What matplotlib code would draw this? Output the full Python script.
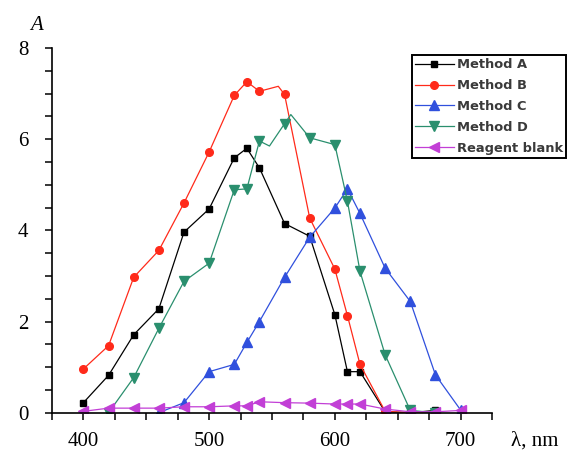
import matplotlib
matplotlib.use("Agg")
import matplotlib.pyplot as plt
from matplotlib.ticker import MultipleLocator

# ---- data ----
wl_a = [400, 420, 440, 460, 480, 500, 520, 530, 540, 560, 580, 600, 610, 620, 640, 660, 680]
abs_a = [0.22, 0.82, 1.71, 2.28, 3.96, 4.47, 5.59, 5.80, 5.37, 4.15, 3.87, 2.15, 0.90, 0.90, 0.02, 0.0, 0.05]

wl_b = [400, 420, 440, 460, 480, 500, 520, 530, 540, 555, 560, 580, 600, 610, 620, 640, 660, 680]
abs_b = [0.96, 1.47, 2.97, 3.56, 4.60, 5.72, 6.96, 7.26, 7.05, 7.16, 6.98, 4.27, 3.15, 2.13, 1.06, 0.03, 0.0, 0.0]
mark_b = [0, 1, 2, 3, 4, 5, 6, 7, 8, 10, 11, 12, 13, 14, 15, 16, 17]

wl_c = [460, 480, 500, 520, 530, 540, 560, 580, 600, 610, 620, 640, 660, 680, 700]
abs_c = [0.0, 0.22, 0.90, 1.06, 1.54, 2.00, 2.97, 3.85, 4.49, 4.91, 4.37, 3.17, 2.44, 0.83, 0.06]

wl_d = [420, 440, 460, 480, 500, 520, 530, 540, 548, 560, 565, 580, 600, 610, 620, 640, 660, 680]
abs_d = [0.0, 0.77, 1.85, 2.88, 3.28, 4.89, 4.91, 5.96, 5.85, 6.34, 6.54, 6.03, 5.88, 4.64, 3.10, 1.27, 0.05, 0.0]
mark_d = [0, 1, 2, 3, 4, 5, 6, 7, 9, 11, 12, 13, 14, 15, 16, 17]

wl_e = [400, 420, 440, 460, 480, 500, 520, 530, 540, 560, 580, 600, 610, 620, 640, 660, 680, 700]
abs_e = [0.03, 0.10, 0.10, 0.10, 0.13, 0.13, 0.15, 0.15, 0.24, 0.22, 0.21, 0.19, 0.19, 0.19, 0.08, 0.02, 0.02, 0.05]

labels = ["Method A", "Method B", "Method C", "Method D", "Reagent blank"]
colors = ["#000000", "#ff2a1a", "#3050dd", "#2a8f6e", "#c23fd6"]

# ---- figure ----
fig = plt.figure(figsize=(5.71, 4.55), dpi=100)
ax = fig.add_axes([52 / 571, 1 - 412.7 / 455, 440 / 571, (412.7 - 48) / 455])

lw = 0.9
ax.plot(wl_a, abs_a, color=colors[0], lw=lw, marker="s", ms=4.5, label=labels[0])
ax.plot(wl_b, abs_b, color=colors[1], lw=lw, marker="o", ms=5.5, markevery=mark_b, label=labels[1])
ax.plot(wl_c, abs_c, color=colors[2], lw=lw, marker="^", ms=6.5, label=labels[2])
ax.plot(wl_d, abs_d, color=colors[3], lw=lw, marker="v", ms=6.5, markevery=mark_d, label=labels[3])
ax.plot(wl_e, abs_e, color=colors[4], lw=lw, marker="<", ms=6.5, label=labels[4])

ax.set_xlim(375, 725)
ax.set_ylim(0, 8)
ax.spines["top"].set_visible(False)
ax.spines["right"].set_visible(False)
for s in ("left", "bottom"):
    ax.spines[s].set_linewidth(1.2)

ax.xaxis.set_major_locator(MultipleLocator(100))
ax.xaxis.set_minor_locator(MultipleLocator(25))
ax.yaxis.set_major_locator(MultipleLocator(2))
ax.yaxis.set_minor_locator(MultipleLocator(0.5))
ax.tick_params(axis="both", which="major", direction="out", length=5, width=1.1,
               labelsize=15)
ax.tick_params(axis="both", which="minor", direction="out", length=5, width=1.1)
ax.tick_params(axis="y", which="major", pad=12)
ax.tick_params(axis="x", which="major", pad=9)
for lab in ax.get_xticklabels() + ax.get_yticklabels():
    lab.set_family("Liberation Serif")

fig.text(37 / 571, 1 - 25 / 455, "A", family="Liberation Serif", style="italic",
         fontsize=15, ha="center", va="center")
fig.text(535 / 571, 1 - 441 / 455, "λ, nm", family="Liberation Serif",
         fontsize=15, ha="center", va="center")

leg = ax.legend(loc="upper right", bbox_to_anchor=(566 / 571, 1 - 55 / 455),
                bbox_transform=fig.transFigure, frameon=True, fancybox=False,
                framealpha=1, edgecolor="black", handlelength=3.0,
                handletextpad=0.2, labelspacing=0.6, borderpad=0.25,
                borderaxespad=0,
                prop={"family": "DejaVu Sans", "weight": "bold", "size": 9.4})
leg.get_frame().set_linewidth(1.4)
for t in leg.get_texts():
    t.set_color("#3a3a3a")

fig.savefig("out.png", dpi=100)
